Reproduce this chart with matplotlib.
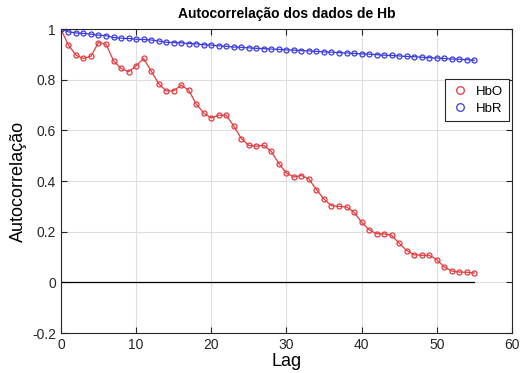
import matplotlib.pyplot as plt
import numpy as np
from matplotlib.lines import Line2D

plt.rcParams["font.family"] = ["Liberation Sans", "DejaVu Sans"]

lags = np.arange(0, 56)

hbo = [1.000, 0.937, 0.897, 0.884, 0.893, 0.947, 0.941, 0.875, 0.845, 0.831,
       0.855, 0.884, 0.835, 0.785, 0.756, 0.756, 0.779, 0.759, 0.704, 0.669,
       0.649, 0.660, 0.660, 0.617, 0.568, 0.541, 0.538, 0.541, 0.517, 0.469,
       0.432, 0.416, 0.422, 0.408, 0.366, 0.329, 0.303, 0.300, 0.298, 0.277,
       0.238, 0.208, 0.192, 0.192, 0.186, 0.155, 0.126, 0.109, 0.107, 0.107,
       0.090, 0.061, 0.045, 0.041, 0.040, 0.037]

hbr = [1.000, 0.989, 0.985, 0.983, 0.980, 0.976, 0.974, 0.967, 0.964, 0.963,
       0.960, 0.959, 0.957, 0.953, 0.948, 0.947, 0.946, 0.943, 0.942, 0.938,
       0.937, 0.934, 0.932, 0.929, 0.928, 0.926, 0.924, 0.923, 0.921, 0.920,
       0.918, 0.917, 0.915, 0.914, 0.912, 0.910, 0.909, 0.907, 0.906, 0.904,
       0.902, 0.901, 0.899, 0.897, 0.896, 0.894, 0.892, 0.891, 0.889, 0.887,
       0.886, 0.884, 0.882, 0.881, 0.879, 0.877]

red = "#e23b3f"
blue = "#3b3be0"

fig = plt.figure(figsize=(5.25, 3.73), dpi=100)
ax = fig.add_axes([0.116, 0.107, 0.859, 0.815])

ax.plot(lags, hbo, "-o", color=red, lw=0.9, ms=3.6, mfc="none", mew=0.9)
ax.plot(lags, hbr, "-o", color=blue, lw=0.9, ms=3.6, mfc="none", mew=0.9)
ax.plot([0, 55], [0, 0], color="black", lw=0.9)

ax.set_xlim(0, 60)
ax.set_ylim(-0.2, 1)
ax.set_xticks(np.arange(0, 61, 10))
ax.set_yticks([-0.2, 0, 0.2, 0.4, 0.6, 0.8, 1])
ax.set_yticklabels(["-0.2", "0", "0.2", "0.4", "0.6", "0.8", "1"])
ax.grid(True, color="#dedede", lw=0.8)
ax.set_axisbelow(True)
ax.tick_params(direction="in", top=True, right=True, labelsize=10, length=4,
               color="#262626", labelcolor="#262626")
for s in ax.spines.values():
    s.set_color("#262626")
    s.set_linewidth(0.8)

ax.set_title("Autocorrelação dos dados de Hb", fontsize=10, fontweight="bold", pad=8)
ax.set_xlabel("Lag", fontsize=13, labelpad=1)
ax.set_ylabel("Autocorrelação", fontsize=13, labelpad=4)

handles = [
    Line2D([], [], ls="none", marker="o", color=red, mfc="none", ms=5.5, mew=0.9),
    Line2D([], [], ls="none", marker="o", color=blue, mfc="none", ms=5.5, mew=0.9),
]
leg = ax.legend(handles, ["HbO", "HbR"], loc="upper right",
                bbox_to_anchor=(0.997, 0.84), borderaxespad=0.1, fontsize=9.5,
                fancybox=False, edgecolor="#262626", framealpha=1,
                handlelength=1.2, handletextpad=0.6, borderpad=0.5,
                labelspacing=0.35)
leg.get_frame().set_linewidth(0.8)

fig.savefig("out.png", dpi=100)
